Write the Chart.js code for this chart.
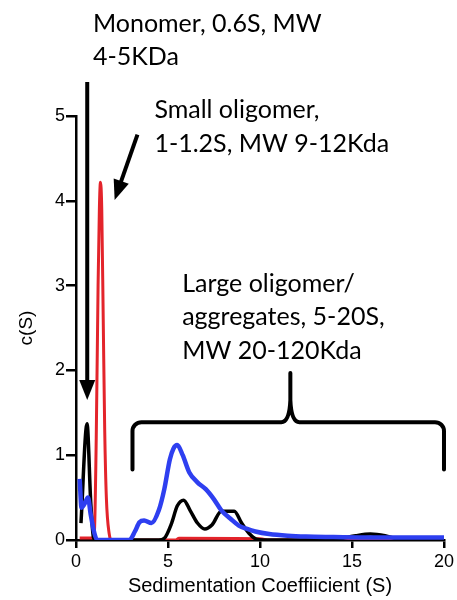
<!DOCTYPE html>
<html>
<head>
<meta charset="utf-8">
<script src="https://cdn.jsdelivr.net/npm/chart.js@4/dist/chart.umd.min.js"></script>
<style>body{margin:0;background:#fff}</style>
</head>
<body>
<canvas id="sedChart" width="457" height="600"></canvas>
<script>
// sedimentation coefficient (S) and c(S) for each trace
var blueS = [0.2, 0.3, 0.45, 0.65, 0.8, 1.0, 1.15, 2.9, 3.2, 3.45, 3.7, 4.1, 4.5, 4.8, 5.1, 5.3, 5.5, 5.8, 6.15, 6.6, 7.05, 7.5, 7.9, 8.4, 8.85, 9.3, 9.75, 10.5, 11.5, 12.5, 14, 16, 18, 20];
var blueC = [0.72, 0.38, 0.42, 0.5, 0.3, 0.08, 0, 0, 0.1, 0.21, 0.23, 0.2, 0.35, 0.6, 0.95, 1.08, 1.12, 1.0, 0.8, 0.68, 0.6, 0.48, 0.35, 0.25, 0.17, 0.13, 0.1, 0.07, 0.05, 0.04, 0.035, 0.03, 0.03, 0.03];

var blackS = [0.27, 0.6, 0.8, 0.95, 1.1, 4.5, 4.8, 5.2, 5.5, 5.85, 6.2, 6.6, 7.0, 7.4, 7.9, 8.6, 9.0, 9.4, 9.8, 10.2, 14, 14.5, 15.2, 16, 16.8, 17.5, 18, 20];
var blackC = [0.2, 1.37, 0.45, 0.03, 0, 0, 0.02, 0.2, 0.4, 0.47, 0.35, 0.2, 0.13, 0.18, 0.34, 0.34, 0.2, 0.08, 0.01, 0, 0, 0.02, 0.05, 0.07, 0.05, 0.01, 0, 0];

var redS = [0.2, 0.9, 1.0, 1.1, 1.2, 1.27, 1.33, 1.4, 1.48, 1.56, 1.65, 1.8, 1.95, 5.4, 5.6, 10, 10.5, 12.8, 13.2, 13.6, 18.2, 18.4, 18.6, 20];
var redC = [0.025, 0.025, 0.1, 1.2, 3.0, 3.9, 4.22, 3.9, 2.6, 1.3, 0.5, 0.08, 0, 0, 0.02, 0.015, 0, 0, 0.02, 0, 0, 0.015, 0, 0];

var xTicksMax = 20;
var yTicksMax = 5;

function pairs(s, c) {
  return s.map(function (v, i) { return {x: v, y: c[i]}; });
}

var notes = {
  id: 'notes',
  afterDraw: function (chart) {
    var c = chart.ctx, xs = chart.scales.x, ys = chart.scales.y;
    function px(v) { return xs.getPixelForValue(v); }
    function py(v) { return ys.getPixelForValue(v); }
    function arrow(x1, y1, x2, y2) {
      var a = Math.atan2(y2 - y1, x2 - x1), len = 20, w = 8;
      var bx = x2 - len * Math.cos(a), by = y2 - len * Math.sin(a);
      c.beginPath(); c.moveTo(x1, y1); c.lineTo(bx + 2 * Math.cos(a), by + 2 * Math.sin(a)); c.stroke();
      c.beginPath(); c.moveTo(x2, y2);
      c.lineTo(bx + w * Math.sin(a), by - w * Math.cos(a));
      c.lineTo(bx - w * Math.sin(a), by + w * Math.cos(a));
      c.closePath(); c.fill();
    }
    c.save();
    c.fillStyle = '#000';
    c.strokeStyle = '#000';
    c.font = '25px Lato';
    c.textBaseline = 'alphabetic';
    c.fillText('Monomer, 0.6S, MW', px(0.92), py(5.99));
    c.fillText('4-5KDa', px(0.92), py(5.60));
    c.fillText('Small oligomer,', px(4.26), py(4.98));
    c.fillText('1-1.2S, MW 9-12Kda', px(4.26), py(4.58));
    c.fillText('Large oligomer/', px(5.77), py(2.92));
    c.fillText('aggregates, 5-20S,', px(5.77), py(2.53));
    c.fillText('MW 20-120Kda', px(5.77), py(2.14));

    c.lineWidth = 4;
    c.lineCap = 'butt';
    arrow(px(0.61), py(5.40), px(0.61), py(1.65));
    arrow(px(3.34), py(4.78), px(2.1), py(4.01));

    // brace over the large species
    var L = px(3.07), R = px(20), T = py(1.39), B = py(0.83), M = px(11.65), P = py(1.97);
    c.lineJoin = 'round';
    c.lineCap = 'round';
    c.beginPath();
    c.moveTo(L, B); c.arcTo(L, T, M, T, 9); c.lineTo(M - 9, T);
    c.quadraticCurveTo(M - 1, T, M, T - 22); c.lineTo(M, P);
    c.moveTo(R, B); c.arcTo(R, T, M, T, 9); c.lineTo(M + 9, T);
    c.quadraticCurveTo(M + 1, T, M, T - 22); c.lineTo(M, P);
    c.stroke();
    c.restore();
  }
};

var tickFont = {family: 'Liberation Sans, Arial', size: 18};

var chart = new Chart(document.getElementById('sedChart').getContext('2d'), {
  type: 'line',
  data: {
    datasets: [
      {data: pairs(blueS, blueC), borderColor: '#2e3ff0', borderWidth: 4.5, cubicInterpolationMode: 'monotone'},
      {data: pairs(blackS, blackC), borderColor: '#000000', borderWidth: 3.5, cubicInterpolationMode: 'monotone'},
      {data: pairs(redS, redC), borderColor: '#e3242b', borderWidth: 3, cubicInterpolationMode: 'monotone'}
    ]
  },
  options: {
    responsive: false,
    animation: false,
    devicePixelRatio: 1,
    layout: {padding: {top: 116, right: 10, left: 0, bottom: 0}},
    elements: {point: {radius: 0}},
    plugins: {legend: {display: false}, tooltip: {enabled: false}},
    scales: {
      x: {
        type: 'linear', min: 0, max: xTicksMax, z: 1,
        afterFit: function (s) { s.height = 60; },
        ticks: {stepSize: 5, color: '#000', font: tickFont, padding: 3, maxRotation: 0},
        grid: {drawOnChartArea: false, tickLength: 8, color: '#000', lineWidth: 2.5},
        border: {color: '#000', width: 2.5},
        title: {display: true, text: 'Sedimentation Coeffiicient (S)', color: '#000', font: {family: 'Liberation Sans, Arial', size: 20}, padding: {top: 0, bottom: 2}}
      },
      y: {
        min: 0, max: yTicksMax, z: 1,
        afterFit: function (s) { s.width = 76; },
        ticks: {stepSize: 1, color: '#000', font: tickFont, padding: 1},
        grid: {drawOnChartArea: false, tickLength: 10, color: '#000', lineWidth: 2.5},
        border: {color: '#000', width: 2.5},
        title: {display: true, text: 'c(S)', color: '#000', font: {family: 'Liberation Sans, Arial', size: 19}, padding: {top: 15, bottom: 0}}
      }
    }
  },
  plugins: [notes]
});
</script>
</body>
</html>
